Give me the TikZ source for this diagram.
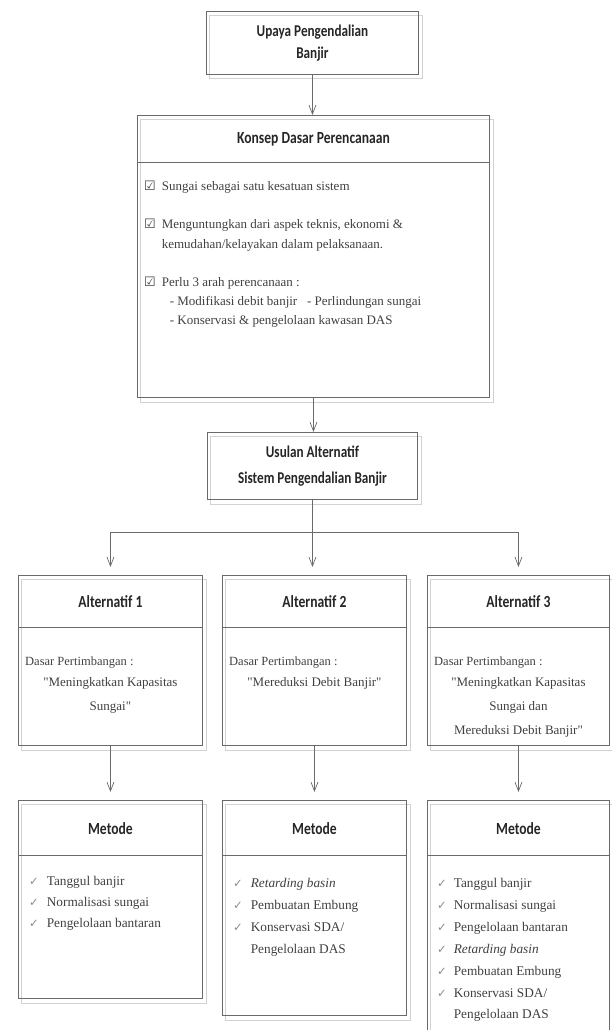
\documentclass[tikz,border=0pt]{standalone}
\usepackage{fontspec}
\setmainfont{Liberation Serif}[Ligatures=TeXOff]
\newfontfamily\hdfont[FakeStretch=0.8]{Carlito}
\newfontfamily\symfont{DejaVu Sans}
\usetikzlibrary{arrows.meta,backgrounds}
\definecolor{linec}{HTML}{6A6A6A}
\definecolor{textc}{HTML}{404040}
\definecolor{shadc}{HTML}{D2D2D2}
\definecolor{ckc}{HTML}{8A8A8A}
\newcommand{\cbx}{{\symfont\fontsize{13}{14}\selectfont\color{textc}☑}}
\newcommand{\ckm}{{\symfont\fontsize{11.5}{13}\selectfont\color{ckc}✓}}
\begin{document}
\begin{tikzpicture}[x=1pt,y=-1pt,
  box/.style={draw=linec, line width=0.9pt, inner sep=0pt, anchor=north west},
  shad/.style={draw=shadc, line width=0.8pt},
  divider/.style={draw=linec, line width=0.9pt},
  arr/.style={draw=linec, line width=0.8pt, -{Straight Barb[length=9pt,width=7pt,line width=0.7pt]}},
  conn/.style={draw=linec, line width=0.8pt},
  head/.style={font=\hdfont\bfseries\fontsize{17}{24}\selectfont, text=black!85, align=center},
  body/.style={font=\fontsize{12.5}{15}\selectfont, text=textc},
  altq/.style={font=\fontsize{13}{24}\selectfont, text=textc, align=center, anchor=north, inner sep=0pt},
  metlist/.style={font=\fontsize{13.3}{15}\selectfont, text=textc, anchor=north west, inner sep=0pt},
]
\useasboundingbox (0,0) rectangle (611,1030);

% boxes
\node[box, minimum width=212, minimum height=63] (top) at (206,11) {};
\node[box, minimum width=352, minimum height=282] (konsep) at (137,115) {};
\node[box, minimum width=210, minimum height=67] (usulan) at (207,432) {};
\node[box, minimum width=184, minimum height=170] (alta) at (18,575) {};
\node[box, minimum width=184, minimum height=170] (altb) at (222,575) {};
\node[box, minimum width=182, minimum height=170] (altc) at (427,575) {};
\node[box, minimum width=184, minimum height=198] (meta) at (18,800) {};
\node[box, minimum width=184, minimum height=215] (metb) at (222,800) {};
\node[box, minimum width=182, minimum height=250] (metc) at (427,800) {};

% shadows
\begin{scope}[on background layer]
\foreach \b in {top,konsep,usulan,alta,altb,altc,meta,metb,metc}{
  \draw[shad] ([shift={(3,4)}]\b.north west) rectangle ([shift={(3,4)}]\b.south east);
}
\end{scope}

% header dividers
\draw[divider] (konsep.west |- 0,162) -- (konsep.east |- 0,162);
\foreach \b in {alta,altb,altc}{ \draw[divider] (\b.west |- 0,627) -- (\b.east |- 0,627); }
\foreach \b in {meta,metb,metc}{ \draw[divider] (\b.west |- 0,855) -- (\b.east |- 0,855); }

% headers
\node[head, font=\hdfont\bfseries\fontsize{16.5}{22}\selectfont] (toptxt) at (top.center) {Upaya Pengendalian\\Banjir};
\node[head] (konseptxt) at (konsep.center |- 0,139) {Konsep Dasar Perencanaan};
\node[head, font=\hdfont\bfseries\fontsize{16.5}{26}\selectfont] (usulantxt) at (usulan.center) {Usulan Alternatif\\Sistem Pengendalian Banjir};
\node[head] (altatxt) at (alta.center |- 0,602) {Alternatif 1};
\node[head] (altbtxt) at (altb.center |- 0,602) {Alternatif 2};
\node[head] (altctxt) at (altc.center |- 0,602) {Alternatif 3};
\node[head] (metatxt) at (meta.center |- 0,829) {Metode};
\node[head] (metbtxt) at (metb.center |- 0,829) {Metode};
\node[head] (metctxt) at (metc.center |- 0,829) {Metode};

% konsep body
\node[body, font=\fontsize{13}{15}\selectfont, anchor=north west, inner sep=0pt] (konsepbody) at (144,177) {%
\renewcommand{\arraystretch}{1.28}%
\begin{tabular}{@{}l@{\hspace{6pt}}l@{}}
\cbx & Sungai sebagai satu kesatuan sistem\\[19pt]
\cbx & Menguntungkan dari aspek teknis, ekonomi \&\\
     & kemudahan/kelayakan dalam pelaksanaan.\\[19pt]
\cbx & Perlu 3 arah perencanaan :\\
     & \hspace{8pt}- Modifikasi debit banjir \ \ - Perlindungan sungai\\
     & \hspace{8pt}- Konservasi \& pengelolaan kawasan DAS
\end{tabular}};

% alternatif bodies
\node[body, anchor=base west, inner sep=0pt] (altadasar) at (25,665) {Dasar Pertimbangan :};
\node[altq] (altaq) at (alta.center |- 0,677) {"Meningkatkan Kapasitas\\Sungai"};
\node[body, anchor=base west, inner sep=0pt] (altbdasar) at (229,665) {Dasar Pertimbangan :};
\node[altq] (altbq) at (altb.center |- 0,677) {"Mereduksi Debit Banjir"};
\node[body, anchor=base west, inner sep=0pt] (altcdasar) at (434,665) {Dasar Pertimbangan :};
\node[altq] (altcq) at (altc.center |- 0,677) {"Meningkatkan Kapasitas\\Sungai dan\\Mereduksi Debit Banjir"};

% metode bodies
\node[metlist] (metabody) at (29,871) {%
\renewcommand{\arraystretch}{1.38}%
\begin{tabular}{@{}l@{\hspace{8pt}}l@{}}
\ckm & Tanggul banjir\\
\ckm & Normalisasi sungai\\
\ckm & Pengelolaan bantaran
\end{tabular}};
\node[metlist] (metbbody) at (233,872) {%
\renewcommand{\arraystretch}{1.46}%
\begin{tabular}{@{}l@{\hspace{8pt}}l@{}}
\ckm & \textit{Retarding basin}\\
\ckm & Pembuatan Embung\\
\ckm & Konservasi SDA/\\
     & Pengelolaan DAS
\end{tabular}};
\node[metlist] (metcbody) at (437,872) {%
\renewcommand{\arraystretch}{1.46}%
\begin{tabular}{@{}l@{\hspace{7pt}}l@{}}
\ckm & Tanggul banjir\\
\ckm & Normalisasi sungai\\
\ckm & Pengelolaan bantaran\\
\ckm & \textit{Retarding basin}\\
\ckm & Pembuatan Embung\\
\ckm & Konservasi SDA/\\
     & Pengelolaan DAS
\end{tabular}};

% connectors
\coordinate (busl) at (alta.center |- 0,532);
\coordinate (busr) at (altc.center |- 0,532);
\draw[arr] (top.south) -- (top.south |- konsep.north);
\draw[arr] (konsep.south) -- (konsep.south |- usulan.north);
\draw[conn] (usulan.south) -- (usulan.south |- busl);
\draw[conn] (busl) -- (busr);
\draw[arr, shorten >=8pt] (busl) -- (alta.north);
\draw[arr, shorten >=8pt] (usulan.south |- busl) -- (usulan.south |- altb.north);
\draw[arr, shorten >=8pt] (busr) -- (altc.north);
\draw[arr, shorten >=8pt] (alta.south) -- (meta.north);
\draw[arr, shorten >=8pt] (altb.south) -- (metb.north);
\draw[arr, shorten >=8pt] (altc.south) -- (metc.north);
\end{tikzpicture}
\end{document}
